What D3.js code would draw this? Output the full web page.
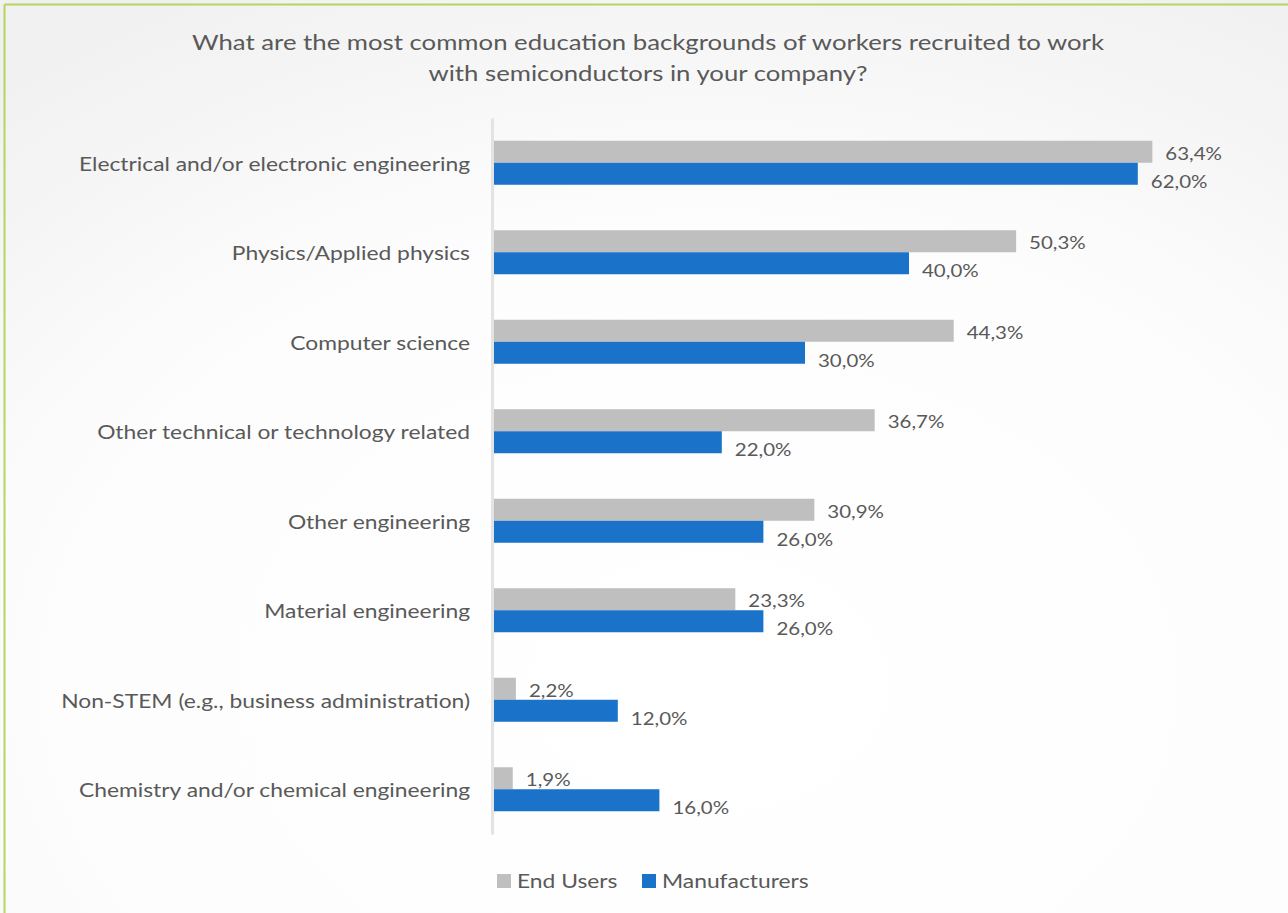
<!DOCTYPE html>
<html><head><meta charset="utf-8">
<script src="https://cdn.jsdelivr.net/npm/d3@7"></script>
<style>body{margin:0;overflow:hidden;background:#fff}svg{display:block}</style>
</head><body>
<script>
const categories = [
  "Electrical and/or electronic engineering",
  "Physics/Applied physics",
  "Computer science",
  "Other technical or technology related",
  "Other engineering",
  "Material engineering",
  "Non-STEM (e.g., business administration)",
  "Chemistry and/or chemical engineering"
];
const seriesNames = ["End Users", "Manufacturers"];
const endUsers = [63.4, 50.3, 44.3, 36.7, 30.9, 23.3, 2.2, 1.9];
const manufacturers = [62.0, 40.0, 30.0, 22.0, 26.0, 26.0, 12.0, 16.0];
const titleLines = ["What are the most common education backgrounds of workers recruited to work", "with semiconductors in your company?"];

const W = 1288, H = 913;
const SX = 1.17; // horizontal stretch of the reference text
const colors = {"End Users": "#bfbfbf", "Manufacturers": "#1a73c9"};
const font = "Lato, 'Open Sans', sans-serif";
const textColor = "#595959";

const svg = d3.select("body").append("svg").attr("width", W).attr("height", H);
const defs = svg.append("defs");
const grad = defs.append("radialGradient").attr("id", "bg").attr("cx", "55%").attr("cy", "75%").attr("r", "85%");
grad.append("stop").attr("offset", "0%").attr("stop-color", "#ffffff");
grad.append("stop").attr("offset", "60%").attr("stop-color", "#fdfdfd");
grad.append("stop").attr("offset", "100%").attr("stop-color", "#f1f1f1");
svg.append("rect").attr("width", W).attr("height", H).attr("fill", "url(#bg)");
svg.append("line").attr("x1", 4.5).attr("x2", W).attr("y1", 4.5).attr("y2", 4.5).attr("stroke", "#b5d65e").attr("stroke-width", 2);
svg.append("line").attr("x1", 4.5).attr("x2", 4.5).attr("y1", 4.5).attr("y2", H).attr("stroke", "#b5d65e").attr("stroke-width", 2);

function stretchedText(parent, x, y, txt, size, anchor) {
  return parent.append("text")
    .attr("transform", `translate(${x},${y}) scale(${SX},1)`)
    .attr("text-anchor", anchor || "start").attr("dy", "0.35em")
    .attr("font-family", font).attr("font-size", size).attr("fill", textColor).text(txt);
}

// title
titleLines.forEach((t, i) => stretchedText(svg, 648, 42 + i * 31, t, 22, "middle"));

const x = d3.scaleLinear().domain([0, 70]).range([493, 493 + 70 * 10.4]);
const y = d3.scaleBand().domain(categories).range([118, 834]);
const ySub = d3.scaleBand().domain(seriesNames).range([0, 44]);

const rows = categories.map((c, i) => ({cat: c, vals: [
  {s: "End Users", v: endUsers[i]}, {s: "Manufacturers", v: manufacturers[i]}]}));

const g = svg.append("g");
const grp = g.selectAll("g.cat").data(rows).join("g")
  .attr("transform", d => `translate(0,${y(d.cat) + y.bandwidth() / 2 - 22})`);
grp.selectAll("rect").data(d => d.vals).join("rect")
  .attr("x", x(0)).attr("y", d => ySub(d.s))
  .attr("width", d => x(d.v) - x(0)).attr("height", ySub.bandwidth())
  .attr("fill", d => colors[d.s]);
grp.each(function(d) {
  const sel = d3.select(this);
  d.vals.forEach(v => {
    stretchedText(sel, x(v.v) + 13, ySub(v.s) + ySub.bandwidth() / 2 + (v.s === "Manufacturers" ? 8 : 2),
      d3.format(".1f")(v.v).replace(".", ",") + "%", 17.5);
  });
});

// axis line + category labels
const yAxis = d3.axisLeft(y).tickSize(0).tickPadding(22);
const ax = svg.append("g").attr("transform", `translate(${x(0) - 1},0)`).call(yAxis);
ax.select(".domain").attr("stroke", "#e3e3e3").attr("stroke-width", 3);
ax.selectAll(".tick text").attr("font-family", font).attr("font-size", 19.5).attr("fill", textColor)
  .attr("x", -22 / SX).attr("y", 2).attr("transform", `scale(${SX},1)`);

// legend
const leg = svg.append("g").attr("transform", "translate(497,874)");
const legX = [0, 145];
seriesNames.forEach((s, i) => {
  leg.append("rect").attr("x", legX[i]).attr("y", 0).attr("width", 14).attr("height", 14).attr("fill", colors[s]);
  stretchedText(leg, legX[i] + 20, 7, s, 19.5);
});
</script>
</body></html>
